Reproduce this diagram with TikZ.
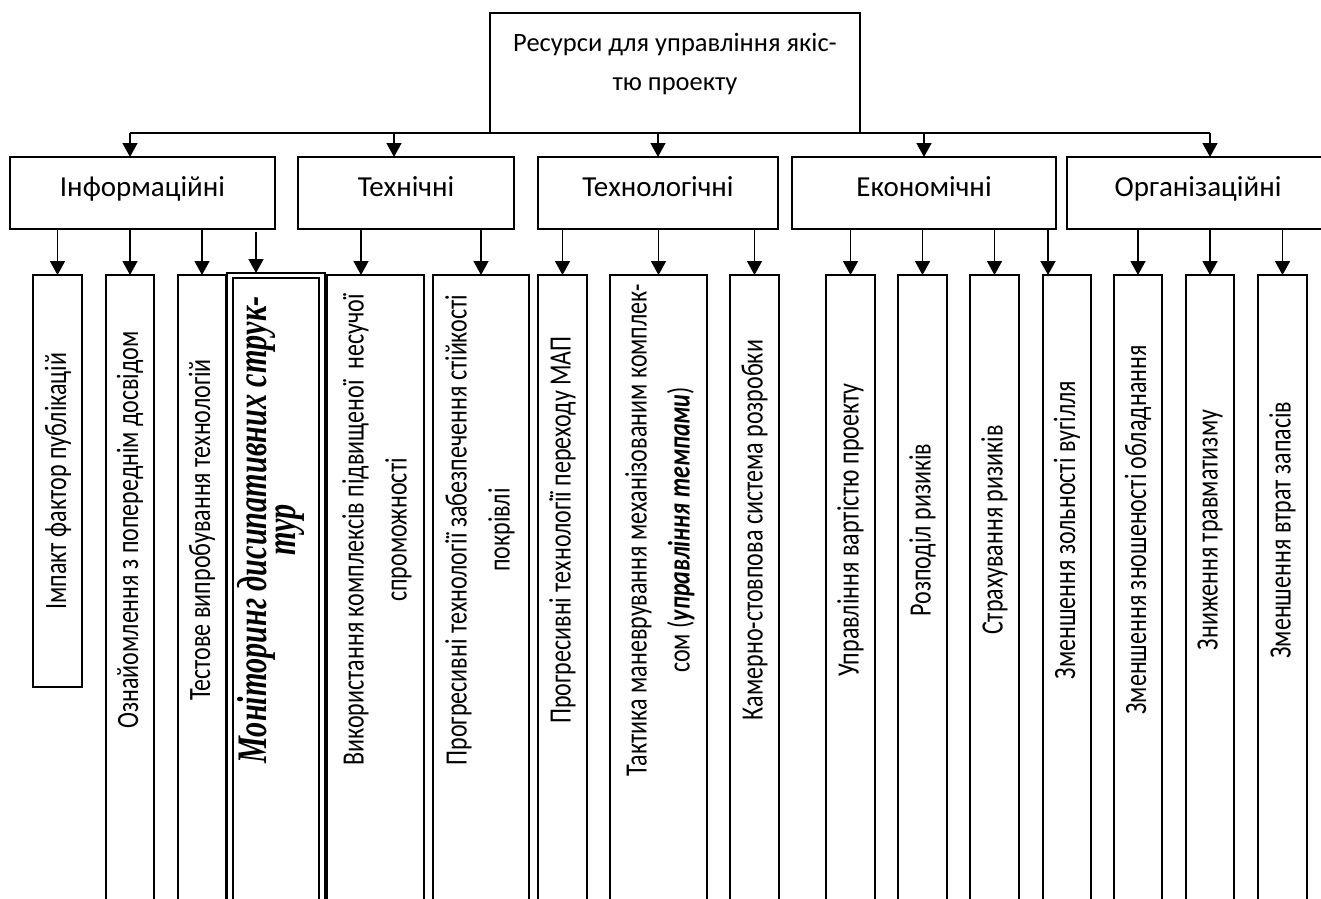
\documentclass[tikz,border=0pt]{standalone}
\usepackage{fontspec}
\setmainfont{Carlito}
\newfontfamily\hfont{Carlito}
\newfontfamily\vfont{Carlito}[FakeStretch=0.775]
\newfontfamily\monfont{Liberation Serif}[FakeStretch=0.72]
\usetikzlibrary{arrows.meta}
\tikzset{
 frame/.style={draw, line width=1.3pt, anchor=north west, inner sep=0pt, outer sep=0pt},
 col/.style={frame, minimum height=675pt},
 arr/.style={line width=1.5pt, -{Triangle[width=15pt,length=14pt]}},
 htext/.style={font=\hfont\fontsize{29}{39}\selectfont, align=center, inner sep=0pt},
 vtext/.style={rotate=90, font=\vfont\fontsize{31}{43}\selectfont, align=center, inner sep=0pt},
 montext/.style={rotate=90, font=\monfont\bfseries\itshape\fontsize{42}{25}\selectfont, align=center, inner sep=0pt},
}
\begin{document}
\begin{tikzpicture}[x=1pt,y=-1pt]
\useasboundingbox (0,0) rectangle (1321,898);
\clip (0,0) rectangle (1321,898);
\fill[white] (0,0) rectangle (1321,898);

% top
\node[frame, minimum width=370pt, minimum height=120pt] (top) at (490,13) {};
\node[htext, font=\hfont\fontsize{26.5}{39}\selectfont] (ttop) at (675,64) {Ресурси для управління якіс-\\тю проекту};

% level 2
\node[frame, minimum width=265pt, minimum height=72pt] (inf) at (10,157) {};
\node[frame, minimum width=216pt, minimum height=72pt] (tech) at (298,157) {};
\node[frame, minimum width=240pt, minimum height=72pt] (tlg) at (538,157) {};
\node[frame, minimum width=264pt, minimum height=72pt] (eco) at (792,157) {};
\node[frame, minimum width=262pt, minimum height=72pt] (org) at (1067,157) {};
\node[htext, anchor=base] (tinf) at (142.5,196) {Інформаційні};
\node[htext, anchor=base] (ttech) at (406,196) {Технічні};
\node[htext, anchor=base] (ttlg) at (658,196) {Технологічні};
\node[htext, anchor=base] (teco) at (924,196) {Економічні};
\node[htext, anchor=base] (torg) at (1198,196) {Організаційні};

% bus
\coordinate (bL) at (130,133);
\coordinate (bR) at (1210,133);
\coordinate (b2) at (394,133);
\draw[line width=1.5pt] (bL) -- (bR);
\draw[arr] (bL) -- (bL |- inf.north);
\draw[arr] (b2) -- (b2 |- tech.north);
\draw[arr] (top.south -| tlg.north) -- (tlg.north);
\draw[arr] (top.south -| eco.north) -- (eco.north);
\draw[arr] (bR) -- (bR |- org.north);

% level 3 boxes
\node[frame, minimum width=49pt, minimum height=412pt] (c1) at (33,275) {};
\node[col, minimum width=48pt] (c2) at (106,275) {};
\node[col, minimum width=48pt] (c3) at (178,275) {};
\node[frame, line width=1.2pt, minimum width=98pt, minimum height=680pt] (mon) at (227,273) {};
\node[frame, line width=2.8pt, minimum width=86pt, minimum height=680pt] (moni) at (233,278) {};
\node[col, minimum width=97pt] (c5) at (327,275) {};
\node[col, minimum width=96pt] (c6) at (433,275) {};
\node[col, minimum width=49pt] (c7) at (538,275) {};
\node[col, minimum width=97pt] (c8) at (610,275) {};
\node[col, minimum width=49pt] (c9) at (730,275) {};
\node[col, minimum width=49pt] (c10) at (826,275) {};
\node[col, minimum width=49pt] (c11) at (898,275) {};
\node[col, minimum width=49pt] (c12) at (970,275) {};
\node[col, minimum width=48pt] (c13) at (1043,275) {};
\node[col, minimum width=48pt] (c14) at (1114,275) {};
\node[col, minimum width=48pt] (c15) at (1186,275) {};
\node[col, minimum width=49pt] (c16) at (1258,275) {};

% level 3 texts
\node[vtext] (t1) at (58,481) {Імпакт фактор публікацій};
\node[vtext] (t2) at (130,530) {Ознайомлення з попереднім досвідом};
\node[vtext] (t3) at (202,530) {Тестове випробування технологій};
\node[montext] (t4) at (271,530) {Моніторинг дисипативних струк-\\тур};
\node[vtext] (t5) at (377,530) {Використання комплексів підвищеної\ \ несучої\\спроможності};
\node[vtext] (t6) at (480,530) {Прогресивні технології забезпечення стійкості\\покрівлі};
\node[vtext] (t7) at (562.5,530) {Прогресивні технології переходу МАП};
\node[vtext] (t8) at (660,530) {Тактика маневрування механізованим комплек-\\сом ({\bfseries\itshape управління темпами})};
\node[vtext] (t9) at (754.5,530) {Камерно-стовпова система розробки};
\node[vtext] (t10) at (850.5,530) {Управління вартістю проекту};
\node[vtext] (t11) at (922.5,530) {Розподіл ризиків};
\node[vtext] (t12) at (994.5,530) {Страхування ризиків};
\node[vtext] (t13) at (1067,530) {Зменшення зольності вугілля};
\node[vtext] (t14) at (1138,530) {Зменшення зношеності обладнання};
\node[vtext] (t15) at (1210,530) {Зниження травматизму};
\node[vtext] (t16) at (1282.5,530) {Зменшення втрат запасів};

% level 3 arrows
\coordinate (a4) at (256,232);
\coordinate (a5) at (361,0);
\coordinate (a13) at (1048,0);
\draw[arr] (inf.south -| c1.north) -- (c1.north);
\draw[arr] (inf.south -| c2.north) -- (c2.north);
\draw[arr] (inf.south -| c3.north) -- (c3.north);
\draw[arr] (a4) -- (a4 |- mon.north);
\draw[arr] (tech.south -| a5) -- (c5.north -| a5);
\draw[arr] (tech.south -| c6.north) -- (c6.north);
\draw[arr] (tlg.south -| c7.north) -- (c7.north);
\draw[arr] (tlg.south -| c8.north) -- (c8.north);
\draw[arr] (tlg.south -| c9.north) -- (c9.north);
\draw[arr] (eco.south -| c10.north) -- (c10.north);
\draw[arr] (eco.south -| c11.north) -- (c11.north);
\draw[arr] (eco.south -| c12.north) -- (c12.north);
\draw[arr] (eco.south -| a13) -- (c13.north -| a13);
\draw[arr] (org.south -| c14.north) -- (c14.north);
\draw[arr] (org.south -| c15.north) -- (c15.north);
\draw[arr] (org.south -| c16.north) -- (c16.north);
\end{tikzpicture}
\end{document}
